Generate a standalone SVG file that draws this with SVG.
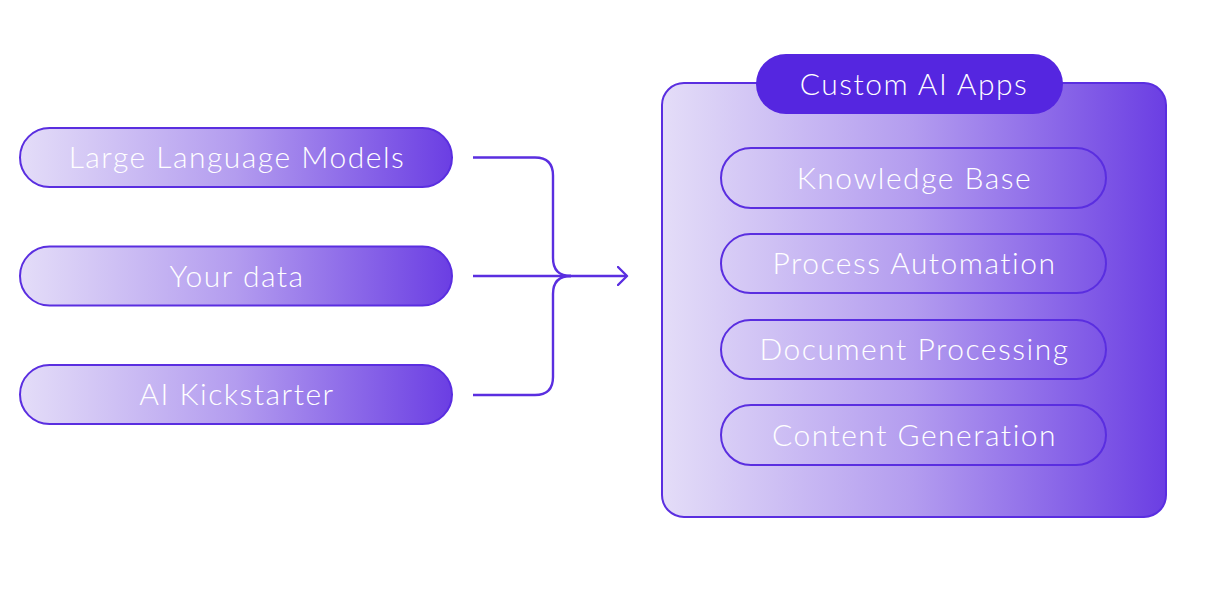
<svg xmlns="http://www.w3.org/2000/svg" width="1224" height="604" viewBox="0 0 1224 604">
<defs>
<linearGradient id="gL" x1="0" y1="0" x2="1" y2="0">
<stop offset="0" stop-color="#e4ddf8"/>
<stop offset="0.5" stop-color="#b39cef"/>
<stop offset="1" stop-color="#6b3ee3"/>
</linearGradient>
<marker id="arr" viewBox="0 0 12 20" refX="10" refY="10" markerWidth="12" markerHeight="20" markerUnits="userSpaceOnUse" orient="auto">
<path d="M1,1 L10,10 L1,19" fill="none" stroke="#5a2ee0" stroke-width="2.4" stroke-linecap="round" stroke-linejoin="round"/>
</marker>
</defs>
<style>
.pill{fill:url(#gL);stroke:#5a2ee0;stroke-width:2}
.inner{fill:none;stroke:#5a2ee0;stroke-width:2}
.t{font-family:Lato,"Noto Sans",sans-serif;font-weight:300;font-size:30px;letter-spacing:1.5px;fill:#ffffff;text-anchor:middle}
.c{fill:none;stroke:#5a2ee0;stroke-width:2.4}
</style>
<rect width="1224" height="604" fill="#ffffff"/>
<g id="llm"><rect class="pill" x="20" y="128" width="432" height="59" rx="29.5"/><text class="t" x="237" y="168">Large Language Models</text></g>
<g id="data"><rect class="pill" x="20" y="246.5" width="432" height="59" rx="29.5"/><text class="t" x="237" y="286.5">Your data</text></g>
<g id="kick"><rect class="pill" x="20" y="365" width="432" height="59" rx="29.5"/><text class="t" x="237" y="405">AI Kickstarter</text></g>
<g id="connectors">
<path class="c" d="M473,157.5 H535 Q553,157.5 553,175.5 V258 Q553,276 571,276"/>
<path class="c" d="M473,395 H535 Q553,395 553,377 V294 Q553,276 571,276"/>
<path class="c" d="M473,276 H627" marker-end="url(#arr)"/>
</g>
<g id="apps">
<rect class="pill" x="662" y="83" width="504" height="434" rx="22"/>
<rect x="756" y="54" width="307" height="60" rx="30" fill="#5526e0"/>
<text class="t" x="914" y="94.5">Custom AI Apps</text>
</g>
<g id="kb"><rect class="inner" x="721" y="148" width="385" height="60" rx="30"/><text class="t" x="914.5" y="188.5">Knowledge Base</text></g>
<g id="pa"><rect class="inner" x="721" y="234" width="385" height="59" rx="29.5"/><text class="t" x="914.5" y="273.5">Process Automation</text></g>
<g id="dp"><rect class="inner" x="721" y="320" width="385" height="59" rx="29.5"/><text class="t" x="914.5" y="359.5">Document Processing</text></g>
<g id="cg"><rect class="inner" x="721" y="405" width="385" height="60" rx="30"/><text class="t" x="914.5" y="445.5">Content Generation</text></g>
</svg>
